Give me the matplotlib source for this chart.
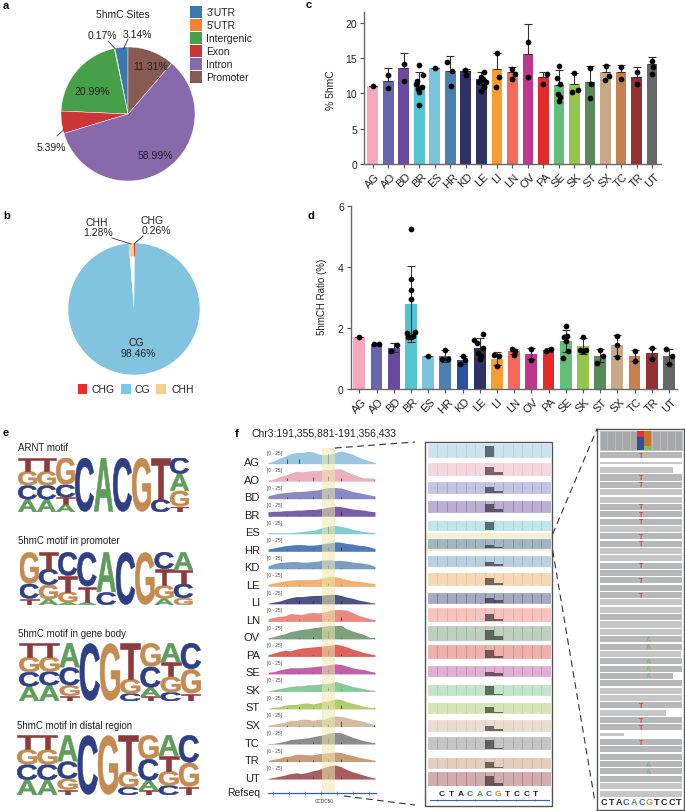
import numpy as np
import matplotlib
matplotlib.use('Agg')
import matplotlib.pyplot as plt
from matplotlib.colors import to_rgba
from matplotlib.font_manager import FontProperties
from matplotlib.patches import PathPatch, Rectangle
from matplotlib.textpath import TextPath
from matplotlib.transforms import Affine2D

plt.rcParams['font.family'] = ['Liberation Sans', 'DejaVu Sans']
plt.rcParams['font.size'] = 7.5
plt.rcParams['text.color'] = '#222222'

W, H = 685, 812

# panel a
site_labels = ["3'UTR", "5'UTR", 'Intergenic', 'Exon', 'Intron', 'Promoter']
site_values = [3.14, 0.17, 20.99, 5.39, 58.99, 11.31]
site_colors = ['#3a78ae', '#f58233', '#479f49', '#cc3637', '#8769ac', '#875a52']

# panel b
context_labels = ['CHG', 'CG', 'CHH']
context_values = [0.26, 98.46, 1.28]
context_colors = ['#ee2c2c', '#82c3df', '#f5cf85']

# panels c and d
tissues = ['AG', 'AO', 'BD', 'BR', 'ES', 'HR', 'KD', 'LE', 'LI', 'LN',
           'OV', 'PA', 'SE', 'SK', 'ST', 'SX', 'TC', 'TR', 'UT']
colors_c = ['#f7a8bd', '#6467ad', '#6a4a9e', '#52c5d0', '#7cc3de', '#4c80ad', '#2f3262',
            '#2f3262', '#f99d31', '#f56a5c', '#bf378f', '#e32b2b', '#63bf78', '#93c64f',
            '#5a8a5a', '#c9a98a', '#c4814f', '#963033', '#666769']
colors_d = list(colors_c)
colors_d[6] = '#2a52a0'

hmc_mean = [11.0, 11.8, 13.6, 11.1, 13.6, 13.2, 13.2, 12.0, 13.4, 13.0,
            15.6, 12.4, 11.2, 11.4, 11.6, 13.1, 13.05, 12.35, 14.2]
hmc_top = [11.0, 13.55, 15.7, 13.0, 13.6, 15.3, 13.5, 13.0, 15.8, 13.7,
           19.8, 13.1, 13.3, 12.9, 13.9, 14.0, 14.1, 13.7, 15.1]
hmc_points = [
    [11.06], [12.6, 10.8], [14.2, 11.8],
    [14.0, 12.6, 11.7, 11.3, 10.9, 10.6, 10.2, 8.3], [13.55], [14.4, 13.2, 11.1],
    [13.3, 12.6], [13.0, 12.3, 12.05, 11.6, 11.6, 11.1, 10.4, 10.9], [15.8, 12.3, 10.9],
    [13.4, 12.7, 12.05], [17.35, 12.3], [12.7, 11.3],
    [13.9, 12.2, 11.3, 9.9, 9.5, 8.9], [12.85, 10.5, 10.2], [13.6, 11.4, 9.3],
    [13.85, 12.5, 11.9], [13.7, 12.0], [13.0, 11.3], [14.55, 13.7, 12.7],
]
hmc_jitter = [
    [0], [0, 0], [0, 0],
    [-.02, .22, -.15, -.2, .2, -.1, 0, 0], [0], [-.2, .12, .02],
    [-.06, .03], [.2, -.02, .08, -.13, .33, .15, 0, .2], [-.02, .11, -.06],
    [0, .2, 0], [0, 0], [.2, -.05],
    [0, -.1, .07, -.07, .08, 0], [0, .2, -.13], [0, .04, 0],
    [0, .2, -.06], [0, 0], [0, 0], [.02, .08, -.02],
]

hmch_mean = [1.7, 1.49, 1.36, 2.79, 1.08, 1.08, 0.96, 1.36, 1.0, 1.24,
             1.16, 1.29, 1.58, 1.42, 1.1, 1.43, 1.1, 1.18, 1.08]
hmch_err = [0, 0, 0.15, 1.24, 0, 0.2, 0.14, 0.32, 0.2, 0.09,
            0.19, 0.06, 0.37, 0.26, 0.2, 0.34, 0.17, 0.17, 0.25]
hmch_points = [
    [1.7], [1.47, 1.49], [1.24, 1.44],
    [5.27, 3.6, 3.25, 2.95, 1.84, 1.86, 1.75, 1.72, 1.7], [1.07], [1.27, .98, .98],
    [1.09, .95, .81], [1.81, 1.62, 1.5, 1.35, 1.17, 1.07, .97], [1.12, 1.09, .75],
    [1.32, 1.26, 1.13], [1.32, .96], [1.25, 1.32],
    [2.08, 1.75, 1.7, 1.59, 1.25, 1.02], [1.7, 1.27, 1.28, 1.25], [1.29, 1.1, .86],
    [1.75, 1.44, 1.06], [1.25, .93], [1.35, 1.0], [1.32, 1.1, .81],
]
hmch_jitter = [
    [0], [-.16, .17], [-.17, .17],
    [0, 0, 0, 0, -.24, .25, .12, -.14, 0], [0], [0, -.17, .17],
    [0, .16, -.16], [.18, -.33, -.15, .18, -.1, .08, .03], [-.16, .15, 0],
    [-.1, .07, -.03], [0, 0], [-.16, .17],
    [0, .08, -.1, 0, .16, -.18], [0, -.16, .16, 0], [0, .16, -.16],
    [0, 0, 0], [0, 0], [0, 0], [-.16, .17, 0],
]

# panel e, each motif position is (letter, share) from bottom to top
logo_titles = ['ARNT motif', '5hmC motif in promoter', '5hmC motif in gene body',
               '5hmC motif in distal region']
logo_arnt = [
    [('A', .23), ('C', .26), ('G', .26), ('T', .25)],
    [('A', .23), ('C', .26), ('G', .26), ('T', .25)],
    [('A', .14), ('T', .13), ('C', .23), ('G', .5)],
    [('C', 1)], [('A', 1)], [('C', 1)], [('G', 1)],
    [('C', .23), ('T', .77)],
    [('T', .1), ('G', .29), ('A', .31), ('C', .3)],
]
logo_promoter = [
    [('T', .12), ('C', .28), ('G', .6)],
    [('A', .11), ('G', .27), ('C', .3), ('T', .32)],
    [('A', .05), ('G', .2), ('T', .3), ('C', .45)],
    [('A', .05), ('T', .3), ('C', .65)],
    [('C', .24), ('A', .76)],
    [('C', 1)], [('G', 1)],
    [('A', .12), ('G', .25), ('T', .31), ('C', .32)],
    [('G', .13), ('C', .27), ('T', .26), ('A', .34)],
]
logo_body = [
    [('A', .25), ('C', .25), ('G', .26), ('T', .24)],
    [('A', .27), ('C', .24), ('G', .25), ('T', .24)],
    [('T', .09), ('G', .18), ('C', .31), ('A', .42)],
    [('C', 1)], [('G', 1)],
    [('C', .13), ('G', .25), ('T', .62)],
    [('T', .08), ('A', .15), ('C', .36), ('G', .41)],
    [('C', .15), ('G', .27), ('T', .25), ('A', .33)],
    [('T', .13), ('G', .42), ('C', .45)],
]
logo_distal = [
    [('A', .25), ('C', .26), ('G', .25), ('T', .24)],
    [('A', .25), ('C', .26), ('G', .25), ('T', .24)],
    [('T', .09), ('G', .18), ('C', .29), ('A', .44)],
    [('C', 1)], [('G', 1)],
    [('C', .13), ('G', .26), ('T', .61)],
    [('T', .08), ('A', .16), ('C', .36), ('G', .4)],
    [('C', .16), ('G', .24), ('T', .25), ('A', .35)],
    [('T', .14), ('G', .4), ('C', .46)],
]
logos = [logo_arnt, logo_promoter, logo_body, logo_distal]
letter_colors = {'A': '#5f9e5a', 'C': '#2f3f86', 'G': '#c58a50', 'T': '#8f3a3a'}

# panel f, coverage tracks in 20 bins across the locus
track_colors = ['#8fc1dc', '#e9a8b8', '#7b7dbd', '#6c4a9e', '#6fc8cf', '#3e6db0', '#6d93bd',
                '#eda95f', '#3a3f78', '#e87d72', '#6f9670', '#d9534a', '#b8509f', '#7cc48e',
                '#a6c760', '#cfb497', '#7f8080', '#c2906a', '#9c4a4f']
track_AG = [2, 5, 10, 13, 18, 20, 20, 22, 21, 17, 16, 17, 20, 23, 20, 17, 12, 8, 5, 2]
track_AO = [2, 4, 8, 11, 14, 18, 17, 18, 19, 19, 21, 21, 22, 22, 17, 13, 9, 6, 6, 5]
track_BD = [5, 8, 10, 11, 12, 13, 13, 14, 15, 16, 19, 20, 20, 19, 16, 13, 11, 9, 7, 5]
track_BR = [8, 9, 9, 10, 10, 11, 11, 12, 12, 13, 15, 17, 18, 17, 15, 13, 12, 11, 9, 8]
track_ES = [2, 2, 2, 2, 2, 3, 4, 5, 6, 9, 12, 14, 15, 13, 11, 8, 6, 4, 3, 2]
track_HR = [4, 6, 8, 10, 11, 12, 12, 11, 11, 12, 14, 15, 17, 16, 14, 13, 11, 10, 8, 5]
track_KD = [5, 9, 11, 12, 13, 13, 12, 12, 13, 14, 16, 16, 15, 15, 14, 12, 11, 10, 8, 4]
track_LE = [4, 6, 8, 10, 11, 12, 12, 12, 12, 13, 16, 18, 17, 15, 12, 10, 9, 8, 6, 5]
track_LI = [1, 3, 5, 8, 11, 13, 13, 14, 15, 15, 16, 17, 17, 15, 12, 10, 7, 5, 3, 1]
track_LN = [5, 7, 9, 10, 14, 13, 12, 15, 16, 15, 17, 20, 21, 21, 20, 16, 11, 8, 5, 3]
track_OV = [2, 4, 7, 9, 13, 15, 17, 18, 20, 21, 23, 24, 24, 24, 18, 14, 11, 8, 3, 2]
track_PA = [3, 6, 9, 11, 10, 13, 15, 16, 17, 18, 19, 20, 22, 20, 17, 13, 10, 7, 5, 3]
track_SE = [3, 4, 7, 9, 11, 11, 11, 12, 13, 14, 15, 17, 18, 17, 14, 11, 9, 8, 5, 3]
track_SK = [1, 3, 5, 7, 9, 10, 10, 12, 12, 13, 14, 15, 18, 15, 12, 9, 7, 5, 3, 2]
track_ST = [1, 3, 4, 7, 8, 8, 10, 11, 9, 11, 14, 15, 18, 17, 13, 10, 8, 5, 3, 2]
track_SX = [2, 4, 6, 8, 11, 11, 13, 13, 11, 13, 13, 17, 19, 18, 16, 13, 11, 9, 6, 3]
track_TC = [1, 1, 3, 5, 8, 9, 10, 11, 13, 15, 17, 20, 21, 20, 16, 12, 9, 6, 4, 2]
track_TR = [2, 4, 6, 9, 10, 13, 13, 12, 12, 14, 15, 16, 17, 16, 13, 11, 8, 6, 4, 2]
track_UT = [1, 3, 5, 7, 10, 11, 10, 12, 15, 17, 21, 24, 25, 22, 17, 13, 10, 7, 4, 2]
tracks = [track_AG, track_AO, track_BD, track_BR, track_ES, track_HR, track_KD, track_LE,
          track_LI, track_LN, track_OV, track_PA, track_SE, track_SK, track_ST, track_SX,
          track_TC, track_TR, track_UT]
# mismatch sites in bins and how high they reach per track
site_bins = [3.4, 5.5, 8.0, 10.7, 12.9, 18.8]
site_heights = [
    [8, 8, 0, 18, 0, 0], [5, 2, 8, 10, 5, 2], [3, 2, 3, 8, 3, 1], [3, 3, 2, 8, 9, 1],
    [0, 0, 0, 14, 0, 0], [3, 3, 3, 8, 8, 2], [2, 2, 2, 6, 2, 1], [2, 2, 1, 6, 2, 1],
    [3, 5, 5, 8, 6, 1], [3, 3, 1, 4, 8, 2], [2, 2, 3, 14, 2, 1], [2, 3, 3, 12, 4, 1],
    [2, 2, 2, 8, 2, 1], [1, 1, 1, 8, 2, 1], [1, 3, 1, 8, 8, 1], [2, 1, 1, 4, 9, 2],
    [1, 2, 3, 10, 4, 1], [4, 2, 2, 5, 4, 1], [2, 2, 3, 8, 3, 1],
]
# zoomed window, read depth as share of the row height
depth_all = [.69, .67, .6, .58, .51, .51, .56, .62, .56, .75, .73, .71, .58, .51, .56, .6, .69, .51, .75]
depth_c = [.58, .44, .36, .4, .44, .16, .25, .36, .25, .4, .55, .44, .25, .45, .33, .27, .49, .33, .55]
depth_g = [0, .15, .11, .16, 0, .07, .13, .09, .18, .15, .22, .13, .18, .05, .07, .11, .09, .05, .18]
window_seq = list('CTACACGTCCT')
seq_colors = ['#222222', '#222222', '#222222', '#3060c0', '#4aa84f', '#3060c0', '#d8862e',
              '#222222', '#222222', '#222222', '#222222']

# single reads, top to bottom: mismatch letter, right end in columns
read_marks = ['T', '', '', 'T', 'T', '', '', 'T', 'T', 'T', '', 'T', 'T', '', '', 'T', '', 'T',
              '', 'T', '', '', '', '', '', 'A', 'A', '', 'A', 'A', 'A', '', '', '', 'T', '',
              'T', 'T', '', 'T', '', '', 'A', 'A', '', '', '']
read_ends = [11, 11, 9.8, 11, 11, 11, 11, 11, 11, 11, 11, 11, 11, 11, 11, 11, 11, 11,
             11, 11, 11, 11, 11, 11, 11, 11, 11, 10.8, 11, 11, 9.8, 11, 11, 11, 11, 8.8,
             11, 11, 3.2, 11, 11, 11, 11, 11, 11, 11, 11]
read_dark = [16, 18, 22, 31, 40, 41, 44]
mark_colors = {'T': '#ee3a32', 'A': '#7cc050'}


fig = plt.figure(figsize=(W / 100, H / 100), dpi=100)


def ax_px(x0, y0, x1, y1, **kw):
    """Axes from a box in picture pixels (y down)"""
    return fig.add_axes([x0 / W, 1 - y1 / H, (x1 - x0) / W, (y1 - y0) / H], **kw)


canvas = ax_px(0, 0, W, H, zorder=10)
canvas.set_xlim(0, W)
canvas.set_ylim(H, 0)
canvas.axis('off')
canvas.patch.set_alpha(0)

for label, x, y in [('a', 3, 6), ('b', 3, 216), ('c', 306, 5), ('d', 308, 216), ('e', 3, 433), ('f', 235, 434)]:
    canvas.text(x, y, label, fontsize=8, fontweight='bold', color='black', va='center')

# a
ax = ax_px(61, 48, 195, 182)
ax.pie(site_values, colors=site_colors, startangle=90, radius=1,
       wedgeprops={'edgecolor': 'white', 'linewidth': 0.3})
ax.set_xlim(-1, 1)
ax.set_ylim(-1, 1)
canvas.text(123, 14.5, '5hmC Sites', ha='center', va='center')
for txt, x, y in [('11.31%', 150.7, 66.7), ('20.99%', 92, 92), ('58.99%', 155, 156),
                  ('5.39%', 51, 148), ('0.17%', 102.7, 36), ('3.14%', 137, 34.5)]:
    canvas.text(x, y, txt, ha='center', va='center')
for xs, ys in [((108, 115.5), (42, 50)), ((128, 123.5), (40, 50)), ((57, 64), (137, 130.5))]:
    canvas.plot(xs, ys, color='#333333', lw=0.6)
for i, (lab, col) in enumerate(zip(site_labels, site_colors)):
    canvas.add_patch(Rectangle((190, 7.3 + 13 * i), 12, 12, color=col, lw=0))
    canvas.text(206.5, 13.3 + 13 * i, lab, va='center')

# b, the two small wedges only show colour near the rim
ax = ax_px(68.3, 244.3, 199.7, 375.7)
ax.pie(context_values, colors=['white', context_colors[1], 'white'], startangle=90, radius=1, counterclock=False)
ax.pie(context_values, colors=[context_colors[0], 'none', context_colors[2]], startangle=90, radius=1,
       counterclock=False, wedgeprops={'width': 0.2, 'linewidth': 0})
ax.set_xlim(-1, 1)
ax.set_ylim(-1, 1)
for txt, x, y in [('CHH', 97, 223), ('1.28%', 98, 233.5), ('CHG', 152.5, 221), ('0.26%', 156, 231.5),
                  ('CG', 136, 343), ('98.46%', 138.5, 354)]:
    canvas.text(x, y, txt, ha='center', va='center')
for xs, ys in [((112, 131), (239, 245)), ((143, 134), (237, 245))]:
    canvas.plot(xs, ys, color='#333333', lw=0.6)
for lab, col, xb, xt in zip(context_labels, context_colors, [78, 121.5, 156.5], [91.5, 135, 172]):
    canvas.add_patch(Rectangle((xb, 385), 9.5, 9.5, color=col if lab != 'CG' else '#76c8ea', lw=0))
    canvas.text(xt, 390, lab, va='center')


def bar_panel(box, xlim, ylim, yticks, means, points, jitter, colors, err_low, err_high):
    ax = ax_px(*box)
    xs = np.arange(len(tissues))
    ax.bar(xs, means, width=0.69, color=colors, zorder=2)
    ax.errorbar(xs, means, yerr=[err_low, err_high], fmt='none', ecolor='#333333',
                elinewidth=0.8, capsize=2.6, capthick=0.8, zorder=3)
    for i in xs:
        ax.scatter(i + np.array(jitter[i]), points[i], s=17, color='black', lw=0, zorder=4)
    ax.set_xlim(*xlim)
    ax.set_ylim(*ylim)
    ax.set_yticks(yticks)
    ax.set_xticks(xs)
    ax.set_xticklabels(tissues, rotation=45, ha='center', rotation_mode='default', fontsize=8)
    ax.tick_params(length=3, width=0.8, color='#555555', pad=2, labelcolor='#222222')
    ax.patch.set_alpha(0)
    for s in ['top', 'right']:
        ax.spines[s].set_visible(False)
    for s in ['left', 'bottom']:
        ax.spines[s].set_color('#666666')
        ax.spines[s].set_linewidth(1)
    return ax


# c
step = 15.52
bar_panel((364, 13.3, 661, 165), (-(372.7 - 364) / step, (661 - 372.7) / step), (0, 21.5), [0, 5, 10, 15, 20],
          hmc_mean, hmc_points, hmc_jitter, colors_c,
          [0] * len(tissues), [t - m for t, m in zip(hmc_top, hmc_mean)])
canvas.text(331.5, 90, '% 5hmC', rotation=90, ha='center', va='center')

# d
step = 17.2
bar_panel((350.7, 207.3, 676.7, 390), (-(359.3 - 350.7) / step, (676.7 - 359.3) / step), (0, 6), [0, 2, 4, 6],
          hmch_mean, hmch_points, hmch_jitter, colors_d, hmch_err, hmch_err)
canvas.text(321.7, 297, '5hmCH Ratio (%)', rotation=90, ha='center', va='center', fontsize=7)


# e
def draw_logo(ax, logo):
    fp = FontProperties(family='Liberation Sans', weight='bold')
    for pos, stack in enumerate(logo):
        bottom = 0
        for letter, share in stack:
            tp = TextPath((0, 0), letter, size=1, prop=fp)
            ext = tp.get_extents()
            tr = (Affine2D().translate(-ext.x0, -ext.y0)
                  .scale(0.98 / ext.width, share * 0.98 / ext.height)
                  .translate(pos + 0.01, bottom + share * 0.01))
            ax.add_patch(PathPatch(tr.transform_path(tp), color=letter_colors[letter], lw=0.4))
            bottom += share
    ax.set_xlim(0, len(logo))
    ax.set_ylim(0, 1)
    ax.axis('off')


logo_boxes = [(18, 458.5, 189, 513), (19.5, 553, 193, 606), (19, 644, 201, 702), (17, 736, 199, 796)]
title_spots = [(18, 448.5), (18, 541), (18, 634), (17, 726)]
for logo, box, title, spot in zip(logos, logo_boxes, logo_titles, title_spots):
    draw_logo(ax_px(*box), logo)
    canvas.text(spot[0], spot[1], title, va='center', fontsize=7)

# f, coverage tracks
canvas.text(251.7, 434, 'Chr3:191,355,881-191,356,433', va='center', fontsize=7.5)
for i, name in enumerate(tissues):
    base = 464.7 + 17.52 * i
    ax = ax_px(268, base - 14, 375, base)
    ax.fill_between(np.arange(20), tracks[i], 0, color=track_colors[i], alpha=0.9, lw=0)
    ax.vlines(site_bins, 0, site_heights[i], color='#222222', lw=0.6, alpha=0.8)
    ax.set_xlim(0, 19)
    ax.set_ylim(0, 25)
    ax.axis('off')
    canvas.text(260, base - 1.5, name, ha='right', va='center', fontsize=8)
    canvas.text(266.7, base - 11.5, '[0 - 25]', va='center', fontsize=3.4, color='#444444')
canvas.add_patch(Rectangle((322, 449), 13, 346, color='#eee8b0', alpha=0.55, lw=0))

# refseq
canvas.text(260, 793.5, 'Refseq', ha='right', va='center', fontsize=7.5)
canvas.plot([268, 376], [794.3, 794.3], color='#3060c0', lw=0.9)
canvas.scatter(np.linspace(273, 369, 7), [794.3] * 7, marker='|', s=5, color='#3060c0', lw=0.5)
canvas.text(324.5, 802, 'CCDC50', ha='center', va='center', fontsize=3.4, color='#333333')

# f, zoomed window
ax = ax_px(428, 439.4, 550.5, 787)
ax.axhspan(13 - 0.17, 13.84, xmin=-0.02, xmax=1.02, color='#f5f0d4', lw=0, clip_on=False)
n_col = 13
for i, col in enumerate(track_colors):
    row = 18 - i
    ax.bar(np.arange(n_col), [depth_all[i]] * n_col, bottom=row, width=1, align='edge',
           facecolor=to_rgba(col, 0.45), edgecolor=to_rgba(col, 0.35), linewidth=0.5)
    ax.bar([6, 7], [depth_c[i], depth_g[i]], bottom=row, width=1, align='edge',
           color=to_rgba('#222222', 0.62), lw=0)
ax.set_xlim(0, n_col)
ax.set_ylim(0, 19)
ax.axis('off')
canvas.add_patch(Rectangle((425, 442.7), 127, 364, fill=False, edgecolor='#555555', lw=1))
for i, (base, col) in enumerate(zip(window_seq, seq_colors)):
    canvas.text(441.7 + 9.42 * i, 795, base, color=col, ha='center', va='center', fontsize=6, fontweight='bold')
canvas.plot([430, 549], [801, 801], color='#3060c0', lw=0.8)
canvas.scatter([437, 456, 475, 496, 516, 535], [801] * 6, marker='|', s=4, color='#3060c0', lw=0.5)

# f, single reads
ax = ax_px(597.3, 430, 684, 810.7)
ax.set_xlim(-0.35, 11.2)
ax.set_ylim(48.2, -3.6)
ax.bar(np.arange(11) + 0.5, [-2.5] * 11, bottom=-0.78, width=1, color='#a5a7a9', edgecolor='#bbbcbe', lw=0.6)
ax.bar([5.35], [-2.5 * 0.67], bottom=-0.78, width=0.95, color='#2a52a0', lw=0)
ax.bar([5.35], [-2.5 * 0.33], bottom=-0.78 - 2.5 * 0.67, width=0.95, color='#ee2c2c', lw=0)
ax.bar([6.35], [-2.5 * 0.18], bottom=-0.78, width=0.95, color='#7cc050', lw=0)
ax.bar([6.35], [-2.5 * 0.82], bottom=-0.78 - 2.5 * 0.18, width=0.95, color='#c8762e', lw=0)
for i, (mark, end) in enumerate(zip(read_marks, read_ends)):
    shade = '#b6b7b9' if mark or i in read_dark else '#c6c6c7'
    height = 0.35 if i == 1 or end == 3.2 else 0.82
    ax.barh(i, end, height=height, color=shade, lw=0)
    if mark:
        ax.text(5.45 if mark == 'T' else 6.4, i, mark, color=mark_colors[mark], ha='center', va='center',
                fontsize=5, fontweight='bold')
for i, (base, col) in enumerate(zip(window_seq, seq_colors)):
    ax.text(0.5 + 1.005 * i, 47.1, base, color=col, ha='center', va='center', fontsize=6.5, fontweight='bold')
ax.set_xticks([])
ax.set_yticks([])
for s in ax.spines.values():
    s.set_color('#555555')
    s.set_linewidth(1)

# connectors
dash = (0, (6, 4))
for xs, ys in [((335, 415), (449, 443)), ((344, 415), (797, 806)),
               ((552.7, 597), (535, 430)), ((552.7, 595), (551.7, 803))]:
    canvas.plot(xs, ys, color='#333333', lw=0.8, linestyle=dash)

fig.savefig('out.png', dpi=100)
